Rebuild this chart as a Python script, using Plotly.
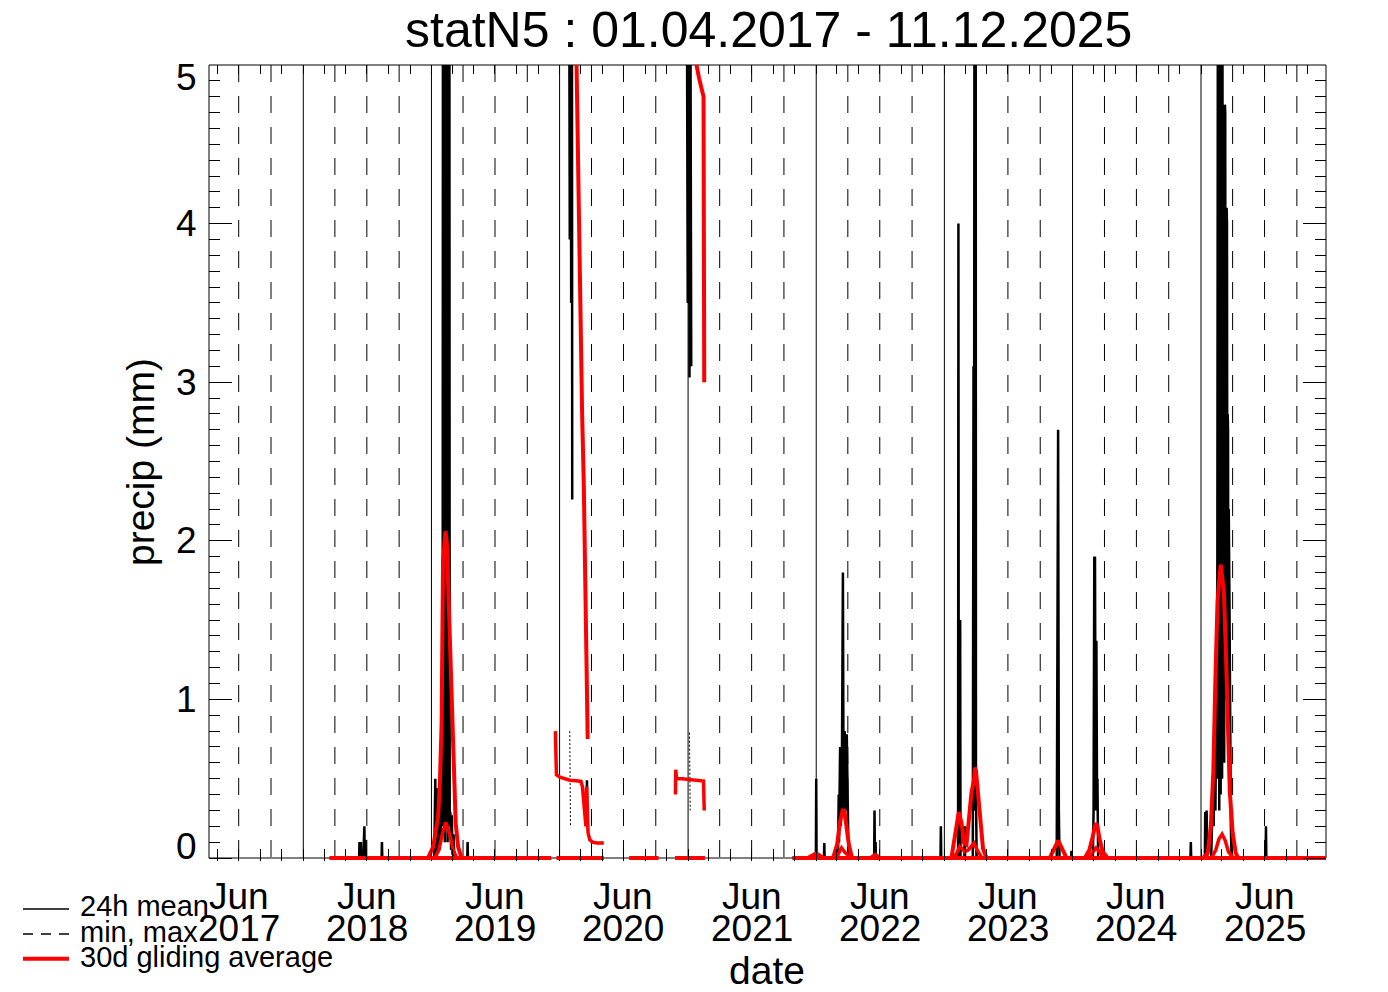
import plotly.graph_objects as go
import pandas as pd

# ---------------- chart data ----------------
title_text = "statN5 : 01.04.2017 - 11.12.2025"
x_range = ["2017-04-07 10:00", "2025-12-23"]
y_tick_values = [0, 1, 2, 3, 4, 5]
x_label_years = [2017, 2018, 2019, 2020, 2021, 2022, 2023, 2024, 2025]
x_label_month = "Jun"

# 24h mean (black), one list per data period
mean_2018_2019 = [
    ("2018-03-17", 0), ("2018-06-09", 0), ("2018-06-10", 0.1), ("2018-06-11", 0),
    ("2018-06-13", 0), ("2018-06-14", 0.1), ("2018-06-15", 0), ("2018-06-21", 0),
    ("2018-06-22", 0.2), ("2018-06-23", 0.05), ("2018-06-24", 0.2), ("2018-06-25", 0),
    ("2018-06-26", 0), ("2018-06-27", 0.115), ("2018-06-28", 0), ("2018-08-12", 0),
    ("2018-08-13", 0.1), ("2018-08-14", 0), ("2019-01-09", 0), ("2019-01-10", 0.5),
    ("2019-01-11", 0.1), ("2019-01-12", 0.5), ("2019-01-13", 0), ("2019-01-16", 0),
    ("2019-01-17", 0.44), ("2019-01-18", 0.1), ("2019-01-19", 0.44), ("2019-01-20", 0.05),
    ("2019-01-22", 0.25), ("2019-01-24", 0.05), ("2019-01-26", 0.4), ("2019-01-28", 0.1),
    ("2019-01-30", 0.9), ("2019-02-01", 0.2), ("2019-02-02", 1.5), ("2019-02-03", 7.0),
    ("2019-02-04", 0.2), ("2019-02-05", 8.5), ("2019-02-06", 0.5), ("2019-02-07", 9.0),
    ("2019-02-08", 0.1), ("2019-02-09", 8.0), ("2019-02-10", 0.4), ("2019-02-11", 9.5),
    ("2019-02-12", 0.2), ("2019-02-13", 8.0), ("2019-02-14", 0.3), ("2019-02-15", 7.5),
    ("2019-02-16", 0.1), ("2019-02-17", 8.0), ("2019-02-18", 0.5), ("2019-02-19", 7.0),
    ("2019-02-20", 0.2), ("2019-02-21", 6.5), ("2019-02-22", 0.3), ("2019-02-24", 0.28),
    ("2019-02-26", 0.05), ("2019-02-28", 0.27), ("2019-03-02", 0.02), ("2019-03-05", 0.15),
    ("2019-03-07", 0), ("2019-04-13", 0), ("2019-04-14", 0.1), ("2019-04-15", 0),
    ("2019-12-08", 0),
]
mean_2020_a = [("2020-01-28", 6.0), ("2020-01-30", 3.9), ("2020-02-01", 7.0),
               ("2020-02-03", 3.5), ("2020-02-05", 6.5), ("2020-02-06", 2.26)]
mean_2020_b = [("2020-03-18", 0.2), ("2020-03-19", 0.49), ("2020-03-20", 0.2)]
mean_2021 = [("2020-12-28", 6.0), ("2020-12-31", 3.5), ("2021-01-03", 7.0),
             ("2021-01-05", 3.03), ("2021-01-07", 6.0), ("2021-01-10", 3.1)]
mean_2021_2025 = [
    ("2021-10-25", 0), ("2021-12-31", 0), ("2022-01-01", 0.5), ("2022-01-02", 0),
    ("2022-01-23", 0), ("2022-01-24", 0.095), ("2022-01-25", 0), ("2022-03-04", 0),
    ("2022-03-06", 0.4), ("2022-03-07", 0.1), ("2022-03-10", 0.7), ("2022-03-12", 0.2),
    ("2022-03-15", 0.5), ("2022-03-18", 1.8), ("2022-03-20", 0.3), ("2022-03-23", 0.8),
    ("2022-03-25", 0.3), ("2022-03-29", 0.78), ("2022-04-01", 0.1), ("2022-04-03", 0),
    ("2022-06-15", 0), ("2022-06-16", 0.3), ("2022-06-17", 0.05), ("2022-06-19", 0.1),
    ("2022-06-20", 0), ("2022-12-21", 0), ("2022-12-22", 0.2), ("2022-12-23", 0),
    ("2023-02-09", 0), ("2023-02-10", 4.0), ("2023-02-11", 0.3), ("2023-02-15", 1.5),
    ("2023-02-16", 0), ("2023-02-27", 0), ("2023-02-28", 0.2), ("2023-03-01", 0),
    ("2023-03-23", 0), ("2023-03-25", 3.1), ("2023-03-26", 0.3), ("2023-03-28", 6.5),
    ("2023-03-29", 0.5), ("2023-03-31", 7.0), ("2023-04-01", 0.4), ("2023-04-03", 0),
    ("2023-11-17", 0), ("2023-11-19", 2.7), ("2023-11-20", 2.65), ("2023-11-21", 2.7),
    ("2023-11-23", 0.3), ("2023-11-25", 0), ("2023-12-28", 0), ("2023-12-29", 0.045),
    ("2023-12-30", 0), ("2024-02-28", 0), ("2024-03-01", 0.3), ("2024-03-03", 1.9),
    ("2024-03-04", 1.85), ("2024-03-05", 1.9), ("2024-03-07", 0.3), ("2024-03-09", 1.37),
    ("2024-03-11", 0.3), ("2024-03-12", 0.5), ("2024-03-14", 0), ("2024-12-02", 0),
    ("2024-12-03", 0.1), ("2024-12-04", 0), ("2025-01-12", 0), ("2025-01-13", 0.29),
    ("2025-01-15", 0.1), ("2025-01-17", 0.3), ("2025-01-19", 0), ("2025-01-30", 0),
    ("2025-01-31", 0.1), ("2025-02-03", 0.4), ("2025-02-06", 0.2), ("2025-02-09", 0.8),
    ("2025-02-11", 0.3), ("2025-02-14", 1.2), ("2025-02-16", 0.5), ("2025-02-17", 7.0),
    ("2025-02-18", 0.5), ("2025-02-19", 8.0), ("2025-02-20", 1.0), ("2025-02-21", 9.0),
    ("2025-02-22", 0.3), ("2025-02-23", 8.0), ("2025-02-24", 0.6), ("2025-02-25", 9.0),
    ("2025-02-26", 0.4), ("2025-02-27", 7.5), ("2025-02-28", 0.8), ("2025-03-01", 8.0),
    ("2025-03-02", 0.5), ("2025-03-03", 6.0), ("2025-03-04", 0.8), ("2025-03-06", 2.2),
    ("2025-03-08", 0.6), ("2025-03-10", 4.75), ("2025-03-11", 4.7), ("2025-03-12", 1.0),
    ("2025-03-15", 4.1), ("2025-03-16", 4.0), ("2025-03-17", 1.5), ("2025-03-18", 2.8),
    ("2025-03-19", 2.7), ("2025-03-20", 0.8), ("2025-03-21", 2.2), ("2025-03-23", 1.62),
    ("2025-03-25", 0.3), ("2025-03-27", 0.2), ("2025-03-29", 0), ("2025-07-04", 0),
    ("2025-07-05", 0.2), ("2025-07-06", 0), ("2025-12-23", 0),
]

# min, max (black dashed) - only visible pieces
minmax_2020 = [("2020-01-30", 0.8), ("2020-01-31", 0.5), ("2020-02-01", 0.2)]
minmax_2021 = [("2021-01-05", 0.79), ("2021-01-06", 0.55), ("2021-01-07", 0.3)]

# 30d gliding averages (red)
avg_hi_2019 = [("2018-12-22", 0), ("2019-01-06", 0.07), ("2019-01-20", 0.26), ("2019-01-25", 0.47),
               ("2019-01-30", 0.85), ("2019-02-02", 1.31), ("2019-02-03", 1.86), ("2019-02-10", 2.06),
               ("2019-02-16", 1.94), ("2019-02-17", 1.77), ("2019-02-20", 1.55), ("2019-02-24", 1.31),
               ("2019-02-27", 1.1), ("2019-03-02", 0.79), ("2019-03-07", 0.47), ("2019-03-11", 0.22),
               ("2019-03-18", 0.07), ("2019-03-28", 0)]
avg_hi_2020 = [("2020-02-14", 5.6), ("2020-02-18", 5.0), ("2020-02-21", 4.56), ("2020-02-26", 3.93),
               ("2020-03-01", 3.27), ("2020-03-05", 2.82), ("2020-03-10", 2.35), ("2020-03-13", 1.88),
               ("2020-03-16", 1.57), ("2020-03-18", 1.19), ("2020-03-21", 0.75)]
avg_hi_2021 = [("2021-01-18", 5.3), ("2021-01-25", 5.0), ("2021-02-01", 4.92), ("2021-02-07", 4.86),
               ("2021-02-14", 4.8), ("2021-02-16", 3.0)]
avg_hi_2022a = [("2021-12-08", 0), ("2022-01-01", 0.03), ("2022-01-21", 0)]
avg_hi_2022b = [("2022-02-18", 0), ("2022-03-02", 0.09), ("2022-03-09", 0.22), ("2022-03-17", 0.3),
                ("2022-03-22", 0.3), ("2022-03-28", 0.2), ("2022-04-04", 0.084), ("2022-04-12", 0.01),
                ("2022-04-16", 0)]
avg_hi_2022c = [("2022-06-05", 0), ("2022-06-18", 0.02), ("2022-07-01", 0)]
avg_hi_2023 = [("2023-01-21", 0), ("2023-02-02", 0.18), ("2023-02-11", 0.29), ("2023-02-19", 0.22),
               ("2023-02-26", 0.095), ("2023-03-05", 0.084), ("2023-03-12", 0.24), ("2023-03-19", 0.41),
               ("2023-03-27", 0.5), ("2023-03-29", 0.57), ("2023-04-01", 0.55), ("2023-04-07", 0.39),
               ("2023-04-15", 0.18), ("2023-04-21", 0.06), ("2023-05-01", 0)]
avg_hi_2023b = [("2023-10-28", 0), ("2023-11-10", 0.06), ("2023-11-21", 0.11), ("2023-12-02", 0.06),
                ("2023-12-15", 0)]
avg_hi_2024 = [("2024-02-05", 0), ("2024-02-18", 0.05), ("2024-02-27", 0.13), ("2024-03-03", 0.2),
               ("2024-03-07", 0.22), ("2024-03-12", 0.2), ("2024-03-18", 0.12), ("2024-03-27", 0.04),
               ("2024-04-10", 0)]
avg_hi_2025 = [("2025-01-07", 0), ("2025-01-20", 0.03), ("2025-01-29", 0.2), ("2025-02-05", 0.54),
               ("2025-02-11", 1.13), ("2025-02-17", 1.62), ("2025-02-26", 1.85), ("2025-03-07", 1.68),
               ("2025-03-13", 1.29), ("2025-03-19", 0.81), ("2025-03-24", 0.42), ("2025-04-01", 0.16),
               ("2025-04-10", 0.03), ("2025-04-17", 0)]

avg_mid_2019 = [("2019-01-10", 0), ("2019-01-22", 0.05), ("2019-02-01", 0.15), ("2019-02-11", 0.225),
                ("2019-02-22", 0.15), ("2019-03-04", 0.05), ("2019-03-14", 0)]
avg_mid_2020 = [("2019-12-20", 0.8), ("2019-12-21", 0.55), ("2019-12-23", 0.525), ("2020-01-02", 0.51),
                ("2020-01-16", 0.5), ("2020-01-30", 0.49), ("2020-02-18", 0.487), ("2020-03-02", 0.483),
                ("2020-03-06", 0.45), ("2020-03-10", 0.35), ("2020-03-13", 0.26), ("2020-03-16", 0.2),
                ("2020-03-18", 0.45), ("2020-03-19", 0.3), ("2020-03-20", 0.42), ("2020-03-22", 0.16),
                ("2020-03-27", 0.115), ("2020-04-04", 0.1), ("2020-04-15", 0.095), ("2020-05-06", 0.095)]
avg_mid_2021 = [("2020-11-26", 0.4), ("2020-11-27", 0.557), ("2020-11-29", 0.5), ("2020-12-15", 0.5),
                ("2021-01-06", 0.495), ("2021-02-04", 0.49), ("2021-02-14", 0.485), ("2021-02-16", 0.3)]
avg_mid_2022 = [("2022-02-27", 0), ("2022-03-07", 0.03), ("2022-03-14", 0.063), ("2022-03-24", 0.035),
                ("2022-04-11", 0)]
avg_mid_2023 = [("2023-01-25", 0), ("2023-02-05", 0.03), ("2023-02-14", 0.073), ("2023-02-28", 0.04),
                ("2023-03-10", 0.05), ("2023-03-26", 0.095), ("2023-04-07", 0.04), ("2023-04-18", 0)]
avg_mid_2024 = [("2024-02-15", 0), ("2024-02-28", 0.04), ("2024-03-08", 0.063), ("2024-03-18", 0.04),
                ("2024-03-30", 0)]
avg_mid_2025 = [("2025-01-31", 0), ("2025-02-12", 0.05), ("2025-02-21", 0.12), ("2025-03-02", 0.15),
                ("2025-03-11", 0.11), ("2025-03-20", 0.04), ("2025-04-03", 0)]

avg_low_periods = [("2018-03-17", "2019-12-08"), ("2019-12-23", "2020-05-06"),
                   ("2020-07-17", "2020-10-09"), ("2020-11-25", "2021-02-18"),
                   ("2021-10-25", "2025-12-23")]

legend_labels = ["24h mean", "min, max", "30d gliding average"]

# ---------------- helpers ----------------
def join(*segments):
    xs, ys = [], []
    for i, seg in enumerate(segments):
        if i:
            xs.append(None)
            ys.append(None)
        for d, v in seg:
            xs.append(d)
            ys.append(v)
    return xs, ys

W, H = 1388, 992
ML, MR, MT, MB = 209, 62, 65, 131
PW, PH = W - ML - MR, H - MT - MB
Y_PX_PER_UNIT = 158.6
Y_MIN = -3 / Y_PX_PER_UNIT


def px_x(px):
    return (px - ML) / PW


def px_y(py):
    return (H - MB - py) / PH


FONT = "Liberation Sans, Arial, Helvetica, sans-serif"
RED = "#ff0000"

fig = go.Figure()

mx, my = join(mean_2018_2019, mean_2020_a, mean_2020_b, mean_2021, mean_2021_2025)
fig.add_trace(go.Scatter(x=mx, y=my, mode="lines", line=dict(color="black", width=2.5),
                         name=legend_labels[0], showlegend=False, hoverinfo="skip"))

ddx, ddy = join(minmax_2020, minmax_2021)
fig.add_trace(go.Scatter(x=ddx, y=ddy, mode="lines", line=dict(color="black", width=1, dash="2px,2px"),
                         name=legend_labels[1], showlegend=False, hoverinfo="skip"))

low_segments = [[(a, 0), (b, 0)] for a, b in avg_low_periods]
lx, ly = join(*low_segments)
fig.add_trace(go.Scatter(x=lx, y=ly, mode="lines", line=dict(color=RED, width=4),
                         showlegend=False, hoverinfo="skip"))

hx, hy = join(avg_hi_2019, avg_hi_2020, avg_hi_2021, avg_hi_2022a, avg_hi_2022b, avg_hi_2022c,
              avg_hi_2023, avg_hi_2023b, avg_hi_2024, avg_hi_2025)
fig.add_trace(go.Scatter(x=hx, y=hy, mode="lines", line=dict(color=RED, width=4),
                         name=legend_labels[2], showlegend=False, hoverinfo="skip"))

kx, ky = join(avg_mid_2019, avg_mid_2020, avg_mid_2021, avg_mid_2022, avg_mid_2023,
              avg_mid_2024, avg_mid_2025)
fig.add_trace(go.Scatter(x=kx, y=ky, mode="lines", line=dict(color=RED, width=3.5),
                         showlegend=False, hoverinfo="skip"))

# empty trace so the top x axis exists
fig.add_trace(go.Scatter(x=[], y=[], xaxis="x2", showlegend=False, hoverinfo="skip"))

# ---------------- axes ----------------
tick_dates = pd.date_range("2017-05-01", "2025-11-01", freq="2MS")
grid_dates = pd.date_range("2017-04-01", "2025-12-01", freq="QS")

fig.update_layout(
    width=W, height=H,
    margin=dict(l=ML, r=MR, t=MT, b=MB, pad=0),
    paper_bgcolor="white", plot_bgcolor="white",
    showlegend=False,
    xaxis=dict(type="date", range=x_range, tickvals=list(tick_dates), ticks="inside",
               ticklen=12, tickcolor="black", tickwidth=1, showticklabels=False,
               showline=False, showgrid=False, zeroline=False),
    xaxis2=dict(type="date", range=x_range, overlaying="x", side="top", anchor="y",
                tickvals=list(tick_dates), ticks="inside", ticklen=9, tickcolor="black",
                tickwidth=1, showticklabels=False, showline=False, showgrid=False, zeroline=False),
    yaxis=dict(range=[Y_MIN, 5], tickvals=y_tick_values, ticks="inside", ticklen=23,
               tickcolor="black", tickwidth=1, showticklabels=False, mirror="ticks",
               showline=False, showgrid=False, zeroline=False,
               minor=dict(dtick=0.1, tick0=0, ticks="inside", ticklen=11, tickcolor="black",
                          tickwidth=1, showgrid=False)),
)

shapes = []
for d in grid_dates:
    solid = d.month == 1
    shapes.append(dict(type="line", xref="x", yref="paper", x0=d, x1=d, y0=1, y1=px_y(858),
                       line=dict(color="black", width=1, dash="solid" if solid else "17px,14px"),
                       layer="below"))
# frame
shapes.append(dict(type="rect", xref="paper", yref="paper", x0=0, x1=1, y0=px_y(858), y1=1,
                   line=dict(color="black", width=1), layer="below"))
# legend lines
shapes.append(dict(type="line", xref="paper", yref="paper", x0=px_x(23), x1=px_x(69),
                   y0=px_y(909), y1=px_y(909), line=dict(color="black", width=1.5)))
shapes.append(dict(type="line", xref="paper", yref="paper", x0=px_x(23), x1=px_x(70),
                   y0=px_y(934), y1=px_y(934), line=dict(color="black", width=1.5, dash="10px,8px")))
shapes.append(dict(type="line", xref="paper", yref="paper", x0=px_x(23), x1=px_x(69),
                   y0=px_y(958.7), y1=px_y(958.7), line=dict(color=RED, width=4)))
fig.update_layout(shapes=shapes)

ann = []
ann.append(dict(text=title_text, xref="paper", yref="paper", x=px_x(768), y=px_y(30),
                xanchor="center", yanchor="middle", showarrow=False,
                font=dict(family=FONT, size=50, color="black")))
for v in y_tick_values:
    shift = -12 if v == 5 else (12 if v == 0 else 0)
    ann.append(dict(text=str(v), xref="paper", yref="y", x=0, y=v, xshift=-10, yshift=shift,
                    xanchor="right", yanchor="middle", showarrow=False,
                    font=dict(family=FONT, size=37, color="black")))
for yr in x_label_years:
    xd = f"{yr}-07-01"
    ann.append(dict(text=x_label_month, xref="x", yref="paper", x=xd, y=px_y(896),
                    xanchor="center", yanchor="middle", showarrow=False, height=30,
                    font=dict(family=FONT, size=37, color="black")))
    ann.append(dict(text=str(yr), xref="x", yref="paper", x=xd, y=px_y(928),
                    xanchor="center", yanchor="middle", showarrow=False, height=30,
                    font=dict(family=FONT, size=37, color="black")))
ann.append(dict(text="date", xref="paper", yref="paper", x=px_x(767), y=px_y(970),
                xanchor="center", yanchor="middle", showarrow=False,
                font=dict(family=FONT, size=39, color="black")))
ann.append(dict(text="precip (mm)", xref="paper", yref="paper", x=px_x(140), y=px_y(462),
                xanchor="center", yanchor="middle", textangle=-90, showarrow=False,
                font=dict(family=FONT, size=39, color="black")))
for lbl, py in zip(legend_labels, [906, 932, 957]):
    ann.append(dict(text=lbl, xref="paper", yref="paper", x=px_x(78), y=px_y(py),
                    xanchor="left", yanchor="middle", showarrow=False,
                    font=dict(family=FONT, size=29, color="black")))
fig.update_layout(annotations=ann)

fig.write_html("out.html", config={"displayModeBar": False},
               post_script="document.body.style.margin='0';document.body.style.padding='0';")
